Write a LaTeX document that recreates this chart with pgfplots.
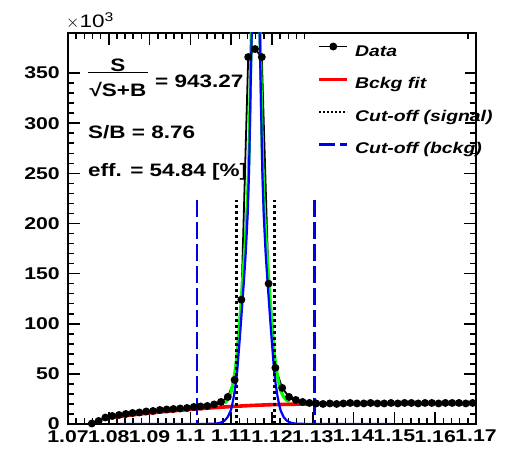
\documentclass[border=0pt]{standalone}
\usepackage{fontspec}
\setmainfont{Liberation Sans}[FakeStretch=1.25]
\usepackage{pgfplots}
\usepackage{pgfplotstable}
\pgfplotsset{compat=1.18}

\newcommand{\fsz}[1]{\fontsize{#1bp}{#1bp}\selectfont}

% data in units of 10^3, 60 bins of 1/600 from 1.07 to 1.17
\pgfplotstableread{
x        y
1.075833 0.5
1.077500 3
1.079167 6.5
1.080833 8
1.082500 9
1.084167 10
1.085833 11
1.087500 11.5
1.089167 12.5
1.090833 13
1.092500 14
1.094167 14.5
1.095833 15
1.097500 15.5
1.099167 16
1.100833 17
1.102500 17.5
1.104167 18
1.105833 19.5
1.107500 22
1.109167 27
1.110833 44
1.112500 124
1.114167 366
1.115833 374
1.117500 366
1.119167 140
1.120833 56
1.122500 36
1.124167 27
1.125833 24
1.127500 22
1.129167 21
1.130833 20.5
1.132500 20
1.134167 20.5
1.135833 20
1.137500 20.5
1.139167 21
1.140833 20.5
1.142500 20.5
1.144167 21
1.145833 20.5
1.147500 20.5
1.149167 21
1.150833 20.5
1.152500 21
1.154167 21
1.155833 20.5
1.157500 21
1.159167 21
1.160833 20.5
1.162500 21
1.164167 21
1.165833 21
1.167500 20.5
1.169167 21
}\datatab

\begin{document}
\begin{tikzpicture}
\begin{axis}[
  set layers,
  scale only axis,
  width=408bp, height=391bp,
  xmin=1.07, xmax=1.17, ymin=0, ymax=390,
  axis line style={line width=2bp, black},
  tick style={line width=1.6bp, black},
  major tick length=12bp, minor tick length=6bp,
  tick align=inside,
  xtick={1.07,1.08,1.09,1.10,1.11,1.12,1.13,1.14,1.15,1.16,1.17},
  xticklabels={1.07,1.08,1.09,1.1,1.11,1.12,1.13,1.14,1.15,1.16,1.17},
  ytick={0,50,100,150,200,250,300,350},
  yticklabels={0,50,100,150,200,250,300,350},
  minor x tick num=4, minor y tick num=4,
  scaled ticks=false,
  /pgf/number format/assume math mode=true,
  tick label style={font=\fsz{17}\bfseries, inner sep=0pt},
  xticklabel style={anchor=north, yshift=-6bp},
  yticklabel style={anchor=east, xshift=-8bp},
  legend style={at={(0.6112,0.9731)}, anchor=north west, draw=none, fill=none,
    inner sep=0pt, outer sep=0pt, row sep=18.5bp, column sep=6bp,
    font=\fsz{15.5}\bfseries\itshape,
    nodes={inner sep=0pt, text height=11bp, text depth=3bp}},
  legend cell align=left,
  legend image code/.code={\draw[mark repeat=2,mark phase=2,#1] plot coordinates {(0bp,5.5bp) (14bp,5.5bp) (28bp,5.5bp)};},
]
% data
\addplot[forget plot, black, line width=1.8bp, mark=*, mark size=3bp,
  mark options={solid, fill=black},
  error bars/.cd, x dir=both, x fixed=0.000833, error mark=none,
  error bar style={line width=1.5bp, black}] table[x=x, y=y] {\datatab};
% total fit
\addplot[forget plot, green, line width=3.2bp] coordinates {
(1.10842,20.6) (1.109154,24.2) (1.109888,30.4) (1.11023,36.5) (1.110621,44.5)
(1.11111,57.6) (1.111452,69.7) (1.112002,97.8) (1.112333,115.9) (1.112736,139)
(1.113066,158) (1.113555,188.1) (1.114044,228.2) (1.114374,271.3) (1.114533,303.3)
(1.114778,358.4) (1.115022,406.4) (1.115267,443.5) (1.115511,483.5) (1.115756,508.6)
(1.116,513.6) (1.116244,508.7) (1.116489,483.7) (1.116733,443.8) (1.116978,406.8)
(1.117222,358.8) (1.117467,303.9) (1.117626,271.9) (1.117956,229) (1.118445,189.1)
(1.118934,159.2) (1.119264,140.3) (1.119667,117.3) (1.119998,99.4) (1.120548,71.5)
(1.12089,59.6) (1.121379,46.7) (1.12177,38.8) (1.122112,33.3) (1.122846,27)
(1.12358,23.6) (1.124313,22.1)};
% background fit
\addplot[forget plot, red, line width=3.6bp] coordinates {
(1.0803,6.3) (1.085,8.8) (1.09,11) (1.095,12.9) (1.10,14.6) (1.105,16.1)
(1.11,17.4) (1.115,18.5) (1.12,19.3) (1.125,19.7) (1.13,20) (1.14,20.2)
(1.15,20.3) (1.16,20.4) (1.17,20.5)};
% signal fit
\addplot[forget plot, blue, line width=2.2bp] coordinates {
(1.0827,0) (1.095,0) (1.100,0.02) (1.103775,0.1) (1.105731,0.3) (1.106954,0.8)
(1.107687,1.8) (1.10842,3.5) (1.109154,7) (1.109888,13.5) (1.11023,19)
(1.110621,27) (1.11111,40) (1.111452,52) (1.112002,80) (1.112333,98)
(1.112736,121) (1.113066,140) (1.113555,170) (1.114044,210) (1.114374,253)
(1.114533,285) (1.114778,340) (1.115022,388) (1.115267,425) (1.115511,465)
(1.115756,490) (1.116,495) (1.116244,490) (1.116489,465) (1.116733,425)
(1.116978,388) (1.117222,340) (1.117467,285) (1.117626,253) (1.117956,210)
(1.118445,170) (1.118934,140) (1.119264,121) (1.119667,98) (1.119998,80)
(1.120548,52) (1.12089,40) (1.121379,27) (1.12177,19) (1.122112,13.5)
(1.122846,7) (1.12358,3.5) (1.124313,1.8) (1.125046,0.8) (1.126269,0.3)
(1.128225,0.1) (1.135,0) (1.1492,0)};
% cut-off lines
\addplot[forget plot, black, line width=2.5bp, dash pattern=on 2.5bp off 3.5bp] coordinates {(1.11125,0) (1.11125,223)};
\addplot[forget plot, black, line width=2.5bp, dash pattern=on 2.5bp off 3.5bp] coordinates {(1.12061,0) (1.12061,223)};
\addplot[forget plot, blue!90!black, line width=2.5bp, dash pattern=on 17bp off 5bp] coordinates {(1.1016,223) (1.1016,0)};
\addplot[forget plot, blue!90!black, line width=2.5bp, dash pattern=on 17bp off 5bp] coordinates {(1.1304,223) (1.1304,0)};
% legend box
\fill[white] (rel axis cs:0.598,0.6624) rectangle (rel axis cs:0.974,0.9972);
\addlegendimage{black, line width=1.8bp, mark=*, mark size=3bp, mark options={solid, fill=black}}
\addlegendentry{Data}
\addlegendimage{red, line width=3.8bp}
\addlegendentry{Bckg fit}
\addlegendimage{black, line width=2.5bp, dash pattern=on 2bp off 2bp}
\addlegendentry{Cut-off (signal)}
\addlegendimage{blue!90!black, line width=2.5bp, dash pattern=on 16bp off 5bp}
\addlegendentry{Cut-off (bckg)}
\end{axis}
% axis multiplier and annotations
\node[anchor=west, inner sep=0pt] at (-2bp,403bp) {\fsz{18}$\times$10\textsuperscript{3}};
\node[inner sep=0pt] at (50bp,359bp) {\fsz{18}\bfseries S};
\draw[line width=1.6bp] (20bp,351.5bp) -- (80bp,351.5bp);
\node[inner sep=0pt] at (50bp,335bp) {\fsz{18}\bfseries √S+B};
\node[anchor=west, inner sep=0pt] at (87bp,342.5bp) {\fsz{18}\bfseries = 943.27};
\node[anchor=west, inner sep=0pt] at (20bp,292bp) {\fsz{18}\bfseries S/B = 8.76};
\node[anchor=west, inner sep=0pt] at (20bp,252bp) {\fsz{18}\bfseries eff. = 54.84 [\%]};
\pgfresetboundingbox
\path[use as bounding box] (-68bp,-28bp) rectangle (442bp,424bp);
\end{tikzpicture}
\end{document}
